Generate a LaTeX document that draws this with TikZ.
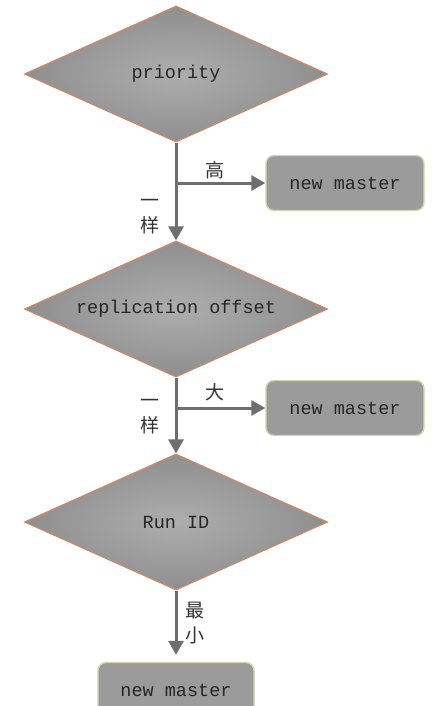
\documentclass[tikz,border=0pt]{standalone}
\usepackage{fontspec}
\newfontfamily\codefont{Liberation Mono}
\newfontfamily\cjk{Noto Sans CJK SC}
\usepackage{tikz}
\usetikzlibrary{shapes.geometric,% diamond nodes
arrows.meta,%                      triangle tips
positioning}
\definecolor{diaedge}{HTML}{C98A6C}
\definecolor{boxfill}{HTML}{9B9B9B}
\definecolor{boxedge}{HTML}{D9D3AE}
\definecolor{flow}{HTML}{6E6E6E}
\tikzset{every node/.style={font=\codefont\fontsize{18.5}{20}\selectfont, text=black!85},
  decision/.style={diamond, aspect=2.23, inner sep=0pt, minimum width=303pt,
    minimum height=136pt, draw=diaedge, line width=1.2pt,
    shading=radial, inner color=black!32, outer color=black!44},
  result/.style={rectangle, rounded corners=8pt, minimum width=158pt,
    minimum height=55pt, fill=boxfill, draw=boxedge, line width=1.4pt},
  flowline/.style={draw=flow, line width=3pt, -{Triangle[length=14pt,width=15pt]}},
  tag/.style={font=\cjk\fontsize{19}{25}\selectfont, text=black!80, align=center}}

\begin{document}
\begin{tikzpicture}[x=1pt, y=-1pt]
  \useasboundingbox[fill=white] (0,0) rectangle (442,706);
  % decisions
  \node[decision] (prio) at (176,74) {priority};
  \node[decision] (offset) at (176,309) {replication offset};
  \node[decision] (runid) at (176,522) {Run ID};
  % outcomes
  \node[result] (master1) at (345,183) {new master};
  \node[result] (master2) at (345,408) {new master};
  \node[result, minimum width=156pt] (master3) at (176,690) {new master};
  % branch points
  \coordinate (split1) at (prio.south |- master1.west);
  \coordinate (split2) at (offset.south |- master2.west);
  \draw[flowline] (prio.south) -- (offset.north);
  \draw[flowline] (split1) -- (master1.west);
  \draw[flowline] (offset.south) -- (runid.north);
  \draw[flowline] (split2) -- (master2.west);
  \draw[flowline, shorten >=7pt] (runid.south) -- (master3.north);
  % labels
  \node[tag] (high) at (215,170) {高};
  \node[tag] (same1) at (150,217) {一\\样};
  \node[tag] (big) at (215,392) {大};
  \node[tag] (same2) at (150,417) {一\\样};
  \node[tag] (least) at (195,623) {最\\小};
\end{tikzpicture}
\end{document}
